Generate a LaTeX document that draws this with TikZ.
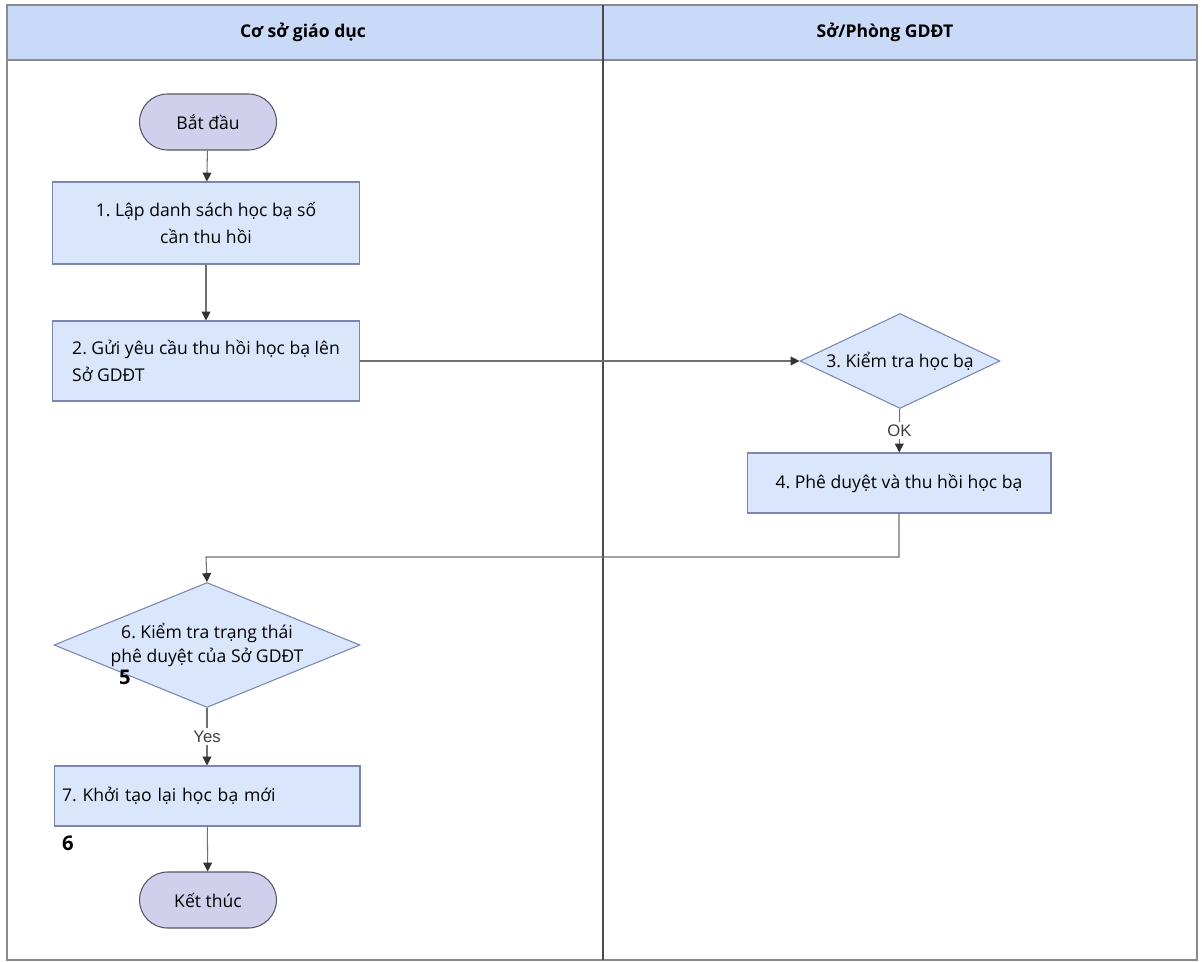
\documentclass[tikz,border=0pt]{standalone}
\usepackage{fontspec}
\setmainfont{Open Sans}
\newfontfamily\labelfont{Liberation Sans}
\usetikzlibrary{shapes.geometric,arrows.meta}
\frenchspacing

\definecolor{headfill}{HTML}{C9DAF8}
\definecolor{boxfill}{HTML}{DAE6FC}
\definecolor{boxline}{HTML}{7A86B0}
\definecolor{termfill}{HTML}{D0D0EC}
\definecolor{termline}{HTML}{555566}
\definecolor{wire}{HTML}{707070}
\definecolor{frameline}{HTML}{8A8A8A}

\tikzset{
  stepbox/.style={draw=boxline, fill=boxfill, line width=0.6pt, minimum width=6.14cm,
    font=\fontsize{10}{15}\selectfont},
  checkbox/.style={diamond, draw=boxline, fill=boxfill, line width=0.6pt, inner sep=0pt,
    font=\fontsize{10}{13.5}\selectfont},
  terminal/.style={draw=termline, fill=termfill, line width=0.6pt, rounded corners=0.56cm,
    minimum width=2.74cm, minimum height=1.12cm, font=\fontsize{10}{12}\selectfont},
  flow/.style={draw=wire, line width=0.6pt, -{Triangle[width=5pt,length=5pt,color=black!80]}},
  guard/.style={fill=white, text=black!75, inner sep=1.5pt, font=\labelfont\fontsize{9.5}{11}\selectfont},
  stray/.style={font=\fontsize{11.5}{13}\selectfont\bfseries}
}

\begin{document}
\begin{tikzpicture}[x=0.02cm, y=-0.02cm]
        \useasboundingbox (0,0) rectangle (1202,962);

        % lanes
        \fill[headfill] (7,5) rectangle (1197,60);
        \draw[frameline, line width=0.8pt] (7,5) rectangle (1197,960);
        \draw[frameline, line width=0.8pt] (7,60) -- (1197,60);
        \draw[black!70, line width=0.8pt] (603,5) -- (603,960);
        \node[font=\fontsize{10}{12}\selectfont\bfseries] (lane1) at (303,32) {Cơ sở giáo dục};
        \node[font=\fontsize{10}{12}\selectfont\bfseries] (lane2) at (885,32) {Sở/Phòng GDĐT};

        \begin{scope}
          \node[terminal] (start) at (208,122) {Bắt đầu};
          \node[stepbox, minimum height=1.64cm, align=center] (1) at (206,223)
            {1. Lập danh sách học bạ số\\cần thu hồi};
          \node[stepbox, minimum height=1.6cm, align=left] (2) at (206,361)
            {2. Gửi yêu cầu thu hồi học bạ lên\\Sở GDĐT};
          \node[checkbox, shape aspect=2.1, minimum width=4cm, minimum height=1.9cm] (3) at (900,361)
            {3. Kiểm tra học bạ};
          \node[stepbox, minimum width=6.08cm, minimum height=1.2cm] (4) at (899,483)
            {4. Phê duyệt và thu hồi học bạ};
          \node[checkbox, shape aspect=2.45, minimum width=6.12cm, minimum height=2.5cm, align=center] (6) at (207,645)
            {6. Kiểm tra trạng thái\\phê duyệt của Sở GDĐT};
          \node[stepbox, minimum width=6.12cm, minimum height=1.2cm, text width=5.8cm,
            inner xsep=0.16cm, align=left] (7) at (207,796) {7. Khởi tạo lại học bạ mới};
          \node[terminal] (stop) at (208,900) {Kết thúc};
        \end{scope}

        \node[stray] (five) at (125,677) {5};
        \node[stray] (six) at (68,843) {6};

        \path[flow] (start) -- (1);
        \path[flow] (1) -- (2);
        \path[flow] (2) -- (3);
        \path[flow] (3) -- node[guard] {OK} (4);
        \path[flow] (4.south) |- (206,557) -- (6.north);
        \path[flow] (6) -- node[guard] {Yes} (7);
        \path[flow] (7) -- (stop);

      \end{tikzpicture}
\end{document}
